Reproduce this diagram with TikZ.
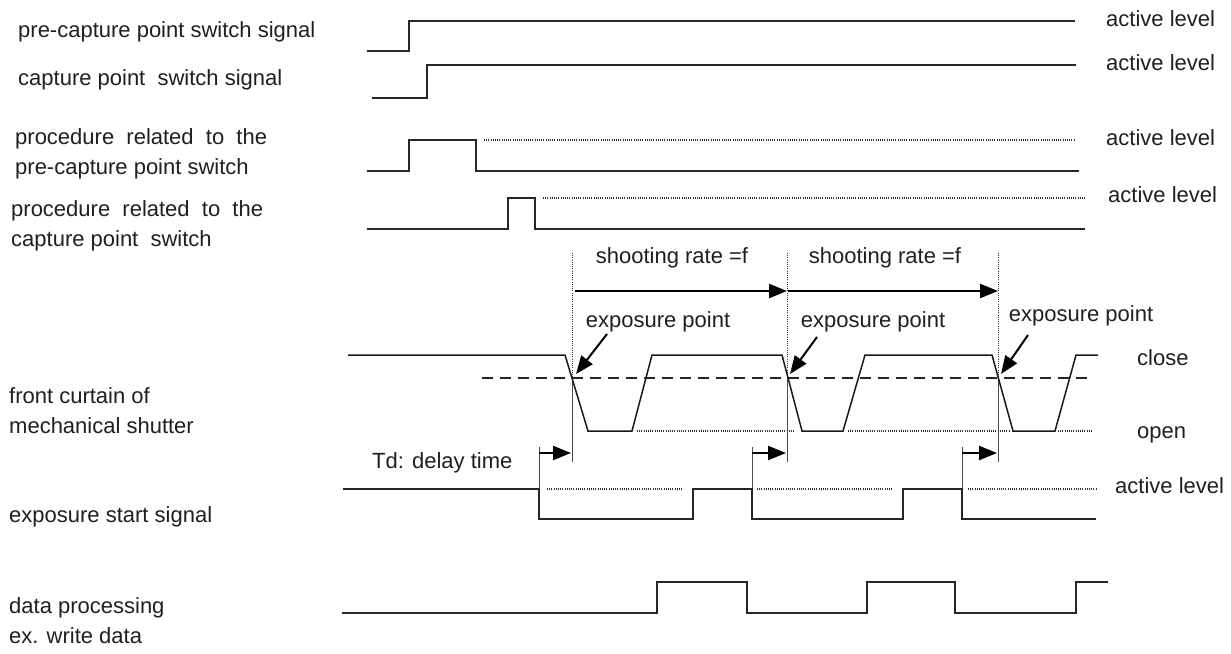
\documentclass[tikz,border=0pt]{standalone}
\usepackage{fontspec}
\setmainfont{Liberation Sans}
\usetikzlibrary{arrows.meta,calc}

\tikzset{
  sig/.style={line width=2pt, black!85},
  curtain/.style={line width=1.5pt, black!90},
  lvl/.style={line width=1.1pt, dash pattern=on 1pt off 1.2pt, black!80},
  guide/.style={line width=0.6pt, black!70},
  txt/.style={anchor=west, inner sep=0pt, text=black!88, align=left,
    font=\fontsize{22}{30}\selectfont},
  boldarrow/.style={line width=2.4pt, black, -{Triangle[length=18pt,width=14pt]}},
}

\begin{document}
\begin{tikzpicture}[x=1pt,y=-1pt]
  \useasboundingbox (0,0) rectangle (1231,653);

  % Parameters
  \def\shutHi{355} % closed level of the curtain
  \def\shutLo{431} % open level of the curtain
  \def\cross{378} % exposure threshold
  \def\xsHi{489} % exposure start signal, high
  \def\xsLo{519} % exposure start signal, low
  \def\dpHi{582} % data processing, high
  \def\dpLo{613} % data processing, low

  % Signal names
  \node[txt] (n1) at (18,32) {pre-capture point switch signal};
  \node[txt] (n2) at (18,80) {capture point~ switch signal};
  \node[txt] (n3) at (15,154) {procedure~ related~ to~ the\\pre-capture point switch};
  \node[txt] (n4) at (11,226) {procedure~ related~ to~ the\\capture point~ switch};
  \node[txt] (n5) at (9,411) {front curtain of\\mechanical shutter};
  \node[txt] (n6) at (9,517) {exposure start signal};
  \node[txt] (n7) at (9,621) {data processing\\ex. write data};

  % pre-capture point switch signal
  \draw[sig] (367,51) -- (409,51) -- (409,21) -- (1075,21);
  \node[txt] (a1) at (1106,19) {active level};

  % capture point switch signal
  \draw[sig] (372,98) -- (427,98) -- (427,65) -- (1076,65);
  \node[txt] (a2) at (1106,63) {active level};

  % procedure related to the pre-capture point switch
  \draw[sig] (367,171) -- (409,171) -- (409,140) -- (476,140) -- (476,171) -- (1079,171);
  \draw[lvl] (484,140) -- (1075,140);
  \node[txt] (a3) at (1106,138) {active level};

  % procedure related to the capture point switch
  \draw[sig] (367,229) -- (508,229) -- (508,198) -- (535,198) -- (535,229) -- (1085,229);
  \draw[lvl] (543,198) -- (1085,198);
  \node[txt] (a4) at (1108,195) {active level};

  % Exposure points
  \coordinate (ep1) at (572,\cross);
  \coordinate (ep2) at (787,\cross);
  \coordinate (ep3) at (998,\cross);
  \foreach \p in {1,2,3} {
    \draw[lvl, line width=0.9pt] ($(ep\p)+(0,-125)$) -- (ep\p);
    \draw[guide] (ep\p) -- ($(ep\p)+(0,84)$);
  }

  % Shooting rate
  \node[txt, anchor=center] (sr1) at (672,258) {shooting rate =f};
  \node[txt, anchor=center] (sr2) at (885,258) {shooting rate =f};
  \draw[boldarrow] ($(ep1)+(3,-87)$) -- ($(ep2)+(0,-87)$);
  \draw[boldarrow] ($(ep2)+(1,-87)$) -- ($(ep3)+(0,-87)$);

  % Exposure point labels
  \node[txt, anchor=center] (ex1) at (658,322) {exposure point};
  \node[txt, anchor=center] (ex2) at (873,322) {exposure point};
  \node[txt, anchor=center] (ex3) at (1081,316) {exposure point};
  \coordinate (t1) at (607,334);
  \coordinate (t2) at (817,337);
  \coordinate (t3) at (1028,335);
  \draw[boldarrow, line width=2pt] (t1) -- ($(ep1)+(4,-4)$);
  \draw[boldarrow, line width=2pt] (t2) -- ($(ep2)+(3,-4)$);
  \draw[boldarrow, line width=2pt] (t3) -- ($(ep3)+(3,-4)$);

  % front curtain of mechanical shutter
  \draw[line width=1.4pt, dash pattern=on 11pt off 7pt, black!85] (482,\cross) -- (1087,\cross);
  \draw[curtain] (348,\shutHi) -- (565,\shutHi) -- (588,\shutLo) -- (632,\shutLo)
    -- (652,\shutHi) -- (782,\shutHi) -- (802,\shutLo) -- (843,\shutLo)
    -- (865,\shutHi) -- (992,\shutHi) -- (1013,\shutLo) -- (1055,\shutLo)
    -- (1076,\shutHi) -- (1098,\shutHi);
  \draw[lvl] (637,\shutLo) -- (795,\shutLo);
  \draw[lvl] (848,\shutLo) -- (1009,\shutLo);
  \draw[lvl] (1058,\shutLo) -- (1093,\shutLo);
  \node[txt] (cl) at (1137,358) {close};
  \node[txt] (op) at (1137,435) {open};

  % Td: delay time
  \node[txt] (td) at (372,463) {Td: delay time};
  \coordinate (d1) at (539,447);
  \coordinate (d2) at (752,447);
  \coordinate (d3) at (962,447);
  \foreach \p in {1,2,3} {
    \draw[guide] (d\p) -- ++(0,42);
    \draw[boldarrow, line width=2.2pt] ($(d\p)+(0,6)$) -- ($(ep\p)+(-1,75)$);
  }

  % exposure start signal
  \draw[sig] (343,\xsHi) -- (539,\xsHi) -- (539,\xsLo) -- (693,\xsLo) -- (693,\xsHi)
    -- (752,\xsHi) -- (752,\xsLo) -- (903,\xsLo) -- (903,\xsHi) -- (962,\xsHi)
    -- (962,\xsLo) -- (1096,\xsLo);
  \draw[lvl] (547,\xsHi) -- (683,\xsHi);
  \draw[lvl] (757,\xsHi) -- (893,\xsHi);
  \draw[lvl] (968,\xsHi) -- (1097,\xsHi);
  \node[txt] (a5) at (1115,486) {active level};

  % data processing
  \draw[sig] (342,\dpLo) -- (657,\dpLo) -- (657,\dpHi) -- (747,\dpHi) -- (747,\dpLo)
    -- (867,\dpLo) -- (867,\dpHi) -- (955,\dpHi) -- (955,\dpLo) -- (1076,\dpLo)
    -- (1076,\dpHi) -- (1108,\dpHi);

\end{tikzpicture}
\end{document}
